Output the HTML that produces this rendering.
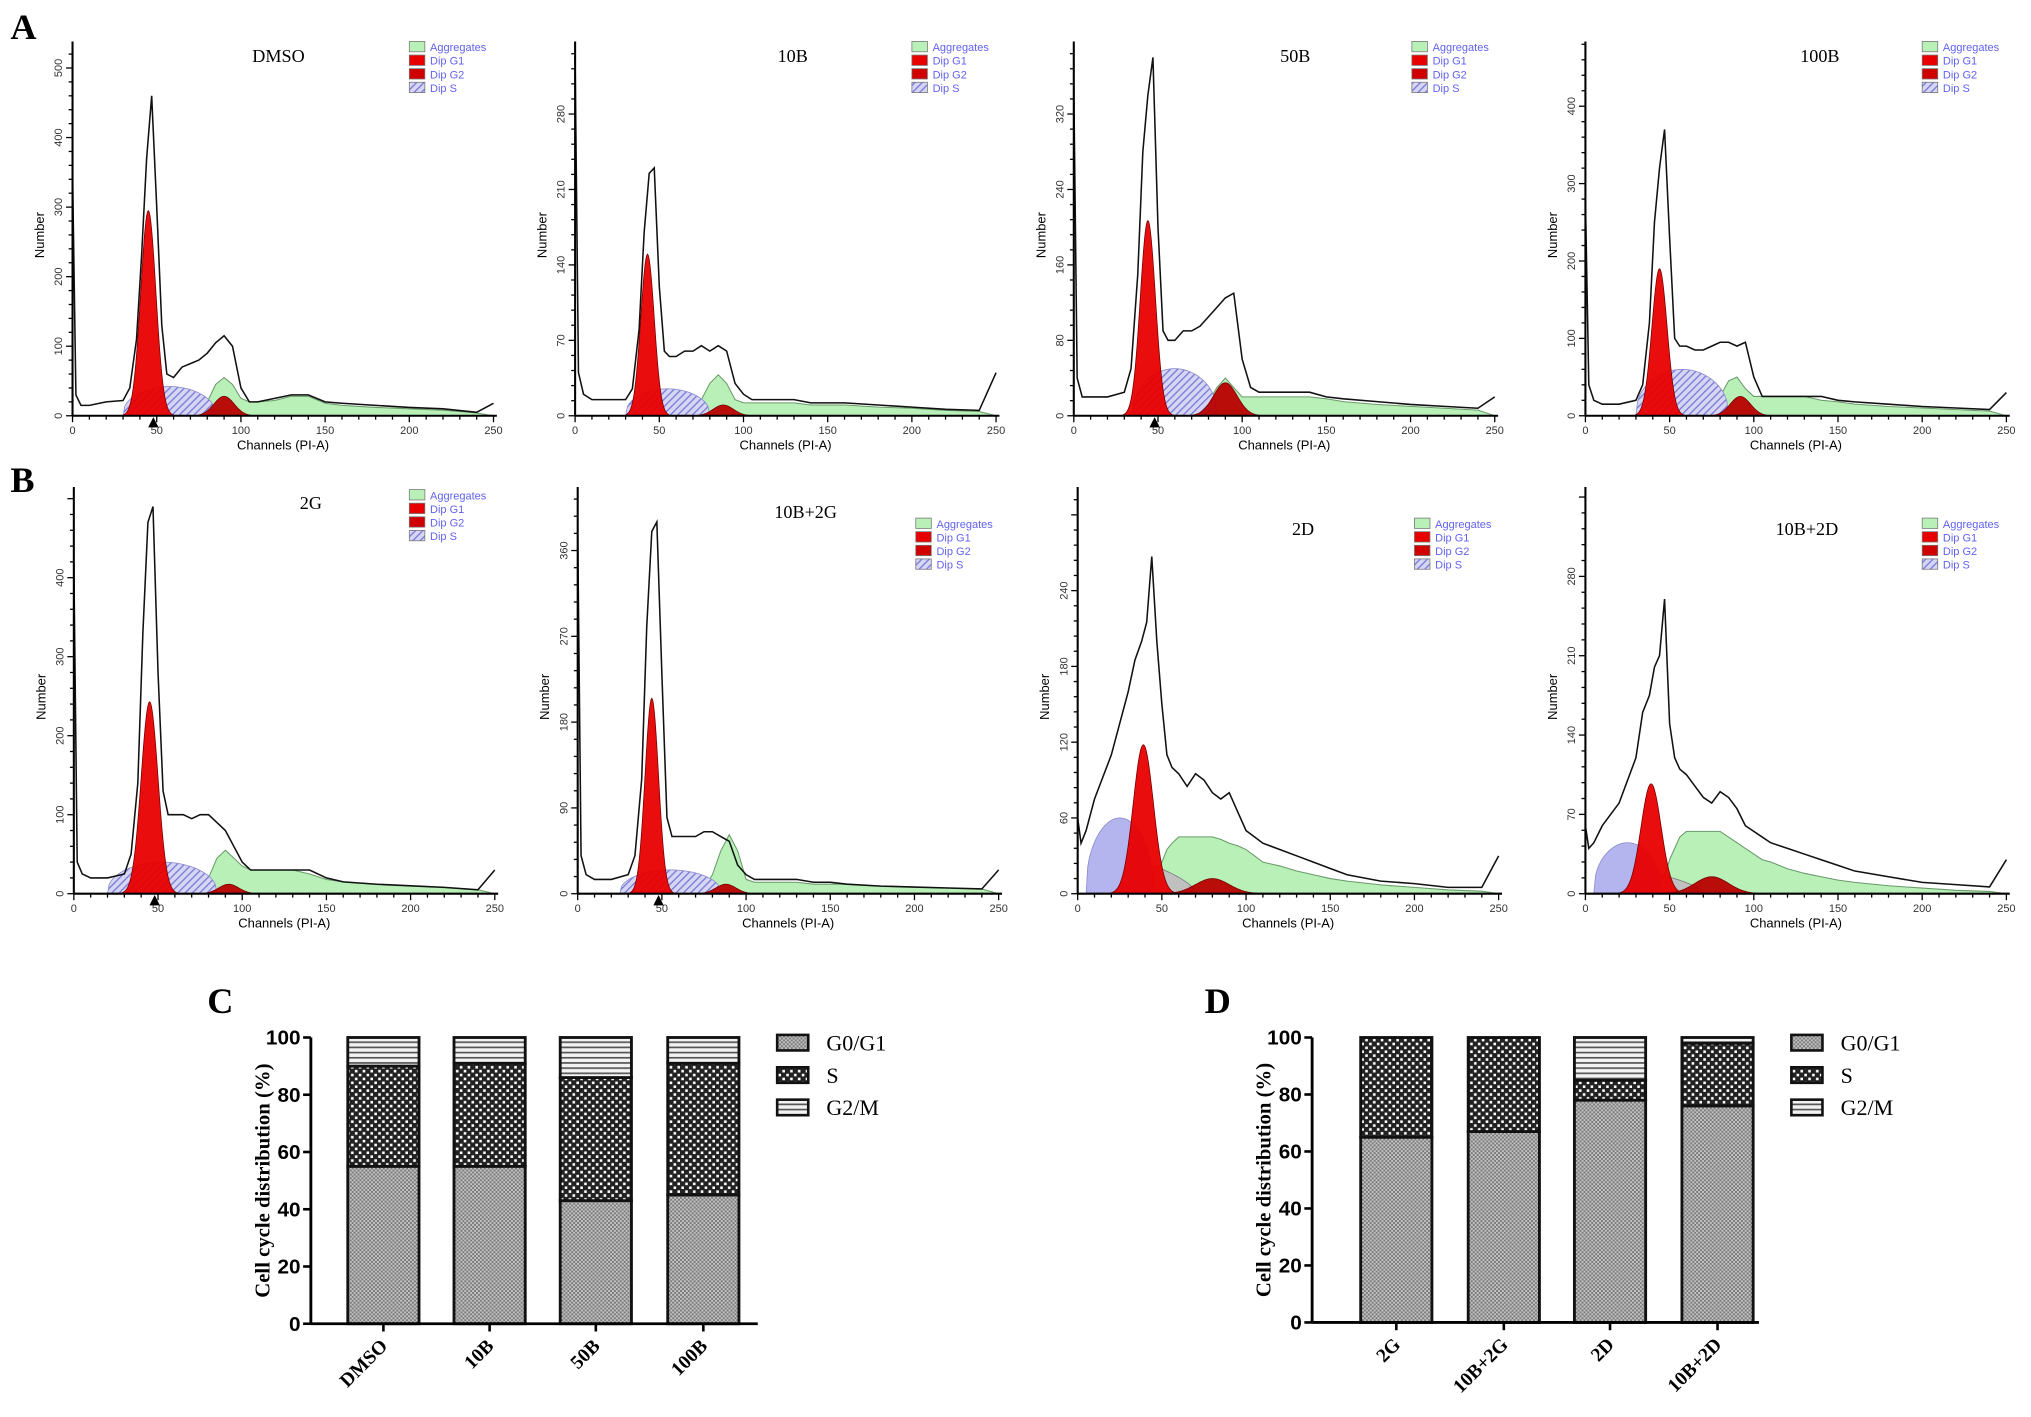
<!DOCTYPE html>
<html><head><meta charset="utf-8"><style>
html,body{margin:0;padding:0;background:#fff;}
svg{display:block;}
</style></head><body>
<svg id="fig" xmlns="http://www.w3.org/2000/svg" width="2031" height="1417" viewBox="0 0 1568 1094" preserveAspectRatio="none">
<defs>
<pattern id="pG1" width="3" height="3" patternUnits="userSpaceOnUse"><rect width="3" height="3" fill="#c4c4c4"/><rect width="1.5" height="1.5" fill="#7a7a7a"/><rect x="1.5" y="1.5" width="1.5" height="1.5" fill="#7a7a7a"/></pattern>
<pattern id="pS" width="6" height="6" patternUnits="userSpaceOnUse"><rect width="6" height="6" fill="#222"/><rect x="1" y="1" width="2" height="2" fill="#fff"/><rect x="4" y="4" width="2" height="2" fill="#fff"/></pattern>
<pattern id="pG2" width="4" height="4" patternUnits="userSpaceOnUse"><rect width="4" height="4" fill="#f2f2f2"/><rect y="0" width="4" height="1.3" fill="#555"/></pattern>
<pattern id="pHatch" width="4" height="4" patternUnits="userSpaceOnUse" patternTransform="rotate(45)"><rect width="4" height="4" fill="#d6d6f4"/><rect width="1" height="4" fill="#7878d8"/></pattern>
</defs>
<g font-family="Liberation Serif, serif" font-weight="bold" font-size="28" fill="#000">
<text x="8" y="30">A</text>
<text x="8" y="380">B</text>
<text x="160" y="782">C</text>
<text x="930" y="782">D</text>
</g>
<g id="hists"></g>
<g id="bars"></g>
</svg>
<script>
const NS='http://www.w3.org/2000/svg';
const chans=[0,2,5,10,20,30,34,38,41,44,47,50,53,56,60,65,70,75,80,85,90,95,100,105,110,120,130,140,150,160,180,200,220,240,250];
const histDMSO=[350,30,15,15,20,22,40,110,230,370,460,300,130,60,55,70,75,80,90,105,115,100,40,20,20,25,30,30,20,18,15,12,10,5,18];
const aggDMSO=[0,0,0,0,0,0,0,0,0,0,0,0,0,0,0,0,0,5,20,45,55,45,25,20,20,22,28,28,18,15,12,10,8,4,0];
const g1DMSO=[45,295,4.5], g2DMSO=[90,28,6], sDMSO=[30,85,42];
const hist10B=[330,40,20,15,15,15,25,80,170,225,230,120,60,55,55,60,60,65,60,65,60,30,20,15,15,15,15,12,12,12,10,8,6,5,40];
const agg10B=[0,0,0,0,0,0,0,0,0,0,0,0,0,0,0,0,5,15,30,38,30,15,12,12,12,12,12,10,10,10,8,7,5,4,0];
const g110B=[43,150,4], g210B=[88,10,6], s10B=[30,80,25];
const hist50B=[350,40,20,20,20,25,50,150,280,340,380,200,90,80,80,90,90,95,105,115,125,130,60,30,25,25,25,25,20,18,15,12,10,8,20];
const agg50B=[0,0,0,0,0,0,0,0,0,0,0,0,0,0,0,0,0,5,15,30,40,30,20,20,20,20,20,20,18,15,12,10,8,6,0];
const g150B=[44,207,4.5], g250B=[90,35,7], s50B=[35,85,50];
const hist100B=[280,40,20,15,15,20,40,120,250,320,370,230,100,90,90,85,85,90,95,95,90,95,50,25,25,25,25,25,20,18,15,12,10,8,30];
const agg100B=[0,0,0,0,0,0,0,0,0,0,0,0,0,0,0,0,0,5,25,45,50,35,25,25,25,25,25,20,18,15,12,10,8,6,0];
const g1100B=[44,190,4.5], g2100B=[92,25,6], s100B=[30,85,60];
const hist2G=[420,40,25,20,20,25,50,140,330,470,490,280,130,100,100,100,95,100,100,90,80,60,40,30,30,30,30,30,20,15,12,10,8,5,30];
const agg2G=[0,0,0,0,0,0,0,0,0,0,0,0,0,0,0,0,0,5,20,45,55,45,35,30,30,30,30,25,18,15,12,10,8,5,0];
const g12G=[45,243,5], g22G=[92,12,6], s2G=[20,85,40];
const hist10B2G=[380,40,20,15,15,20,40,120,280,380,390,230,80,60,60,60,60,65,65,60,55,30,20,15,15,15,15,12,12,10,8,7,6,5,25];
const agg10B2G=[0,0,0,0,0,0,0,0,0,0,0,0,0,0,0,0,0,5,20,45,62,45,15,12,12,12,12,10,10,10,8,7,6,5,0];
const g110B2G=[44,205,4], g210B2G=[88,10,6], s10B2G=[25,85,25];
const hist2D=[60,40,50,75,110,160,185,200,215,267,200,150,110,100,95,85,95,90,80,75,80,65,50,45,40,35,30,25,20,15,10,8,5,5,30];
const agg2D=[0,0,0,0,0,0,0,0,0,5,15,25,35,40,45,45,45,45,45,43,40,38,35,30,25,22,18,15,12,10,7,5,3,2,0];
const g12D=[39,118,6], g22D=[80,12,10], s2D=[5,45,60];
const hist10B2D=[60,40,45,60,80,120,160,175,200,210,260,150,120,110,105,95,85,80,90,85,75,60,55,50,45,40,35,30,25,20,15,10,8,6,30];
const agg10B2D=[0,0,0,0,0,0,0,0,0,5,15,30,40,50,55,55,55,55,55,50,45,40,35,30,28,22,18,15,12,10,7,5,3,2,0];
const g110B2D=[39,97,6], g210B2D=[75,15,10], s10B2D=[5,45,45];
const yTicksPer=[100,70,80,100,100,90,60,70];
const yTickMax=[500,280,320,400,400,360,240,280];

const panels=[
 {id:'dmso',title:'DMSO',ox:56,oy:321,top:32,ppc:0.537,tx:215,ty:48,lx:316,ly:32,h:histDMSO,a:aggDMSO,g1:g1DMSO,g2:g2DMSO,s:sDMSO,mk:true,deb:false},
 {id:'10b',title:'10B',ox:444,oy:321,top:32,ppc:0.832,tx:612,ty:48,lx:704,ly:32,h:hist10B,a:agg10B,g1:g110B,g2:g210B,s:s10B,mk:false,deb:false},
 {id:'50b',title:'50B',ox:829,oy:321,top:32,ppc:0.728,tx:1000,ty:48,lx:1090,ly:32,h:hist50B,a:agg50B,g1:g150B,g2:g250B,s:s50B,mk:true,deb:false},
 {id:'100b',title:'100B',ox:1224,oy:321,top:32,ppc:0.5975,tx:1405,ty:48,lx:1484,ly:32,h:hist100B,a:agg100B,g1:g1100B,g2:g2100B,s:s100B,mk:false,deb:false},
 {id:'2g',title:'2G',ox:57,oy:690,top:376,ppc:0.61,tx:240,ty:393,lx:316,ly:378,h:hist2G,a:agg2G,g1:g12G,g2:g22G,s:s2G,mk:true,deb:false},
 {id:'10b2g',title:'10B+2G',ox:446,oy:690,top:376,ppc:0.736,tx:622,ty:400,lx:707,ly:400,h:hist10B2G,a:agg10B2G,g1:g110B2G,g2:g210B2G,s:s10B2G,mk:true,deb:false},
 {id:'2d',title:'2D',ox:832,oy:690,top:376,ppc:0.975,tx:1006,ty:413,lx:1092,ly:400,h:hist2D,a:agg2D,g1:g12D,g2:g22D,s:s2D,mk:false,deb:true},
 {id:'10b2d',title:'10B+2D',ox:1224,oy:690,top:376,ppc:0.875,tx:1395,ty:413,lx:1484,ly:400,h:hist10B2D,a:agg10B2D,g1:g110B2D,g2:g210B2D,s:s10B2D,mk:false,deb:true}
];
function E(tag,attrs,parent){const e=document.createElementNS(NS,tag);for(const k in attrs)e.setAttribute(k,attrs[k]);parent.appendChild(e);return e;}
const H=document.getElementById('hists');
panels.forEach((p,pi)=>{
 const g=E('g',{},H);
 
 
 const X=c=>p.ox+c*1.3, Y=v=>p.oy-v*p.ppc;
 // aggregates
 let d='M'+X(chans[0])+','+Y(0);chans.forEach((c,i)=>{d+=' L'+X(c)+','+Y(p.a[i]);});d+=' L'+X(250)+','+Y(0)+'Z';
 const ag=E('path',{d:d,fill:'#b8f0b8',stroke:'#6a9a6a','stroke-width':0.8},g);
 
 
 // debris (grey)
 if(p.deb){const a=p.s[0],b=p.s[1]+25,hh=p.s[2]*0.55;let dd='M'+X(a)+','+Y(0);for(let c=a;c<=b;c++){dd+=' L'+X(c)+','+Y(hh*Math.pow(Math.sin(Math.PI*(c-a)/(b-a)),0.5)*(1-0.5*(c-a)/(b-a)));}dd+=' L'+X(b)+','+Y(0)+'Z';
  const db=E('path',{d:dd,fill:'#c0c0c0',stroke:'#777','stroke-width':0.6},g);
  
  }
 // S phase
 {const a=p.s[0],b=p.s[1],hh=p.s[2];let dd='M'+X(a)+','+Y(0);for(let c=a;c<=b;c++){dd+=' L'+X(c)+','+Y(hh*Math.pow(Math.sin(Math.PI*(c-a)/(b-a)),0.4));}dd+=' L'+X(b)+','+Y(0)+'Z';
  const sp=E('path',{d:dd,fill:p.deb?'#b4b4ee':'url(#pHatch)',stroke:'#8888cc','stroke-width':0.6},g);
  
  }
 // gaussians
 [[p.g1,'#e80000','dip-g1-peak'],[p.g2,'#b80000','dip-g2-peak']].forEach(([q,col,nm])=>{
  const m=q[0],hh=q[1],sd=q[2];let dd='M'+X(m-4*sd)+','+Y(0);for(let c=m-4*sd;c<=m+4*sd;c+=0.5){dd+=' L'+X(c)+','+Y(hh*Math.exp(-(c-m)*(c-m)/(2*sd*sd)));}dd+=' L'+X(m+4*sd)+','+Y(0)+'Z';
  const gp=E('path',{d:dd,fill:col,stroke:'#700','stroke-width':0.6,'fill-opacity':0.95},g);
  
  
 });
 // histogram line
 let ld='';chans.forEach((c,i)=>{ld+=(i?' L':'M')+X(c)+','+Y(p.h[i]);});
 const hl=E('path',{d:ld,fill:'none',stroke:'#111','stroke-width':1.2},g);
 
 
 // axes
 const ya=E('line',{x1:p.ox,y1:p.top,x2:p.ox,y2:p.oy,stroke:'#000','stroke-width':1.6},g);
 
 
 const xa=E('line',{x1:p.ox,y1:p.oy,x2:X(252),y2:p.oy,stroke:'#000','stroke-width':1.6},g);
 
 
 for(let c=0;c<=250;c+=10){const t=E('line',{x1:X(c),y1:p.oy,x2:X(c),y2:p.oy+(c%50?3:5),stroke:'#000','stroke-width':1},g);
  
  
  if(c%50===0){const tl=E('text',{x:X(c),y:p.oy+14,'font-size':8.5,'text-anchor':'middle',fill:'#333','font-family':'Liberation Sans, sans-serif'},g);tl.textContent=c;
   
   }}
 const st=yTicksPer[pi],mx=yTickMax[pi];
 for(let v=0;Y(v)>=p.top;v+=st/5){const maj=Math.abs(v/st-Math.round(v/st))<1e-6;
  const t=E('line',{x1:p.ox-(maj?5:3),y1:Y(v),x2:p.ox,y2:Y(v),stroke:'#000','stroke-width':1},g);
  
  
  if(maj&&v<=mx){const tl=E('text',{x:0,y:0,'font-size':8.5,'text-anchor':'middle',fill:'#333','font-family':'Liberation Sans, sans-serif',transform:'translate('+(p.ox-8)+','+Y(v)+') rotate(-90)'},g);tl.textContent=Math.round(v);
   
   }}
 const yt=E('text',{'font-size':10,'text-anchor':'middle','font-family':'Liberation Sans, sans-serif',transform:'translate('+(p.ox-22)+','+((p.top+p.oy)/2+5)+') rotate(-90)'},g);yt.textContent='Number';
 
 
 const xt=E('text',{x:X(125),y:p.oy+26,'font-size':10,'text-anchor':'middle','font-family':'Liberation Sans, sans-serif'},g);xt.textContent='Channels (PI-A)';
 
 
 if(p.mk){const tr=E('path',{d:'M'+(X(48)-4)+','+(p.oy+9)+' L'+(X(48)+4)+','+(p.oy+9)+' L'+X(48)+','+(p.oy+1)+'Z',fill:'#000'},g);
  
  }
 const tt=E('text',{x:p.tx,y:p.ty,'font-size':14,'text-anchor':'middle','font-family':'Liberation Serif, serif'},g);tt.textContent=p.title;
 
 
 [['Aggregates','#b8f0b8'],['Dip G1','#e80000'],['Dip G2','#d00000'],['Dip S','url(#pHatch)']].forEach((L,i)=>{
  const r=E('rect',{x:p.lx,y:p.ly+i*10.5,width:12,height:8,fill:L[1],stroke:'#777','stroke-width':0.6},g);
  
  
  const lt=E('text',{x:p.lx+16,y:p.ly+i*10.5+7.5,'font-size':8.5,fill:'#6262f0','font-family':'Liberation Sans, sans-serif'},g);lt.textContent=L[0];
  
  
 });
});

// stacked bar charts
const catsC=['DMSO','10B','50B','100B'];
const g0C=[55,55,43,45];
const sC=[35,36,43,46];
const g2C=[10,9,14,9];
const catsD=['2G','10B+2G','2D','10B+2D'];
const g0D=[65,67,78,76];
const sD=[35,33,7,22];
const g2D=[0,0,15,2];
const yTicksBar=[0,20,40,60,80,100];
const legendBar=['G0/G1','S','G2/M'];
const B=document.getElementById('bars');
[{id:'c',ox:240,oy:1022,top:801,cx:[296,378,460,543],xend:585,lx:600,cats:catsC,g0:g0C,s:sC,g2:g2C},
 {id:'d',ox:1013,oy:1021,top:801,cx:[1078,1161,1243,1326],xend:1358,lx:1383,cats:catsD,g0:g0D,s:sD,g2:g2D}].forEach(c=>{
 const g=E('g',{},B);
 
 
 const Y=v=>c.oy-(c.oy-c.top)*v/100;
 c.cats.forEach((cat,i)=>{
  let base=0;
  [[c.g0[i],'url(#pG1)','bar-g0g1'],[c.s[i],'url(#pS)','bar-s'],[c.g2[i],'url(#pG2)','bar-g2m']].forEach(([v,f,nm])=>{
   if(v<=0){return;}
   const r=E('rect',{x:c.cx[i]-27.5,y:Y(base+v),width:55,height:Y(base)-Y(base+v),fill:f,stroke:'#111','stroke-width':2.2},g);
   
   
   base+=v;
  });
  const t=E('line',{x1:c.cx[i],y1:c.oy,x2:c.cx[i],y2:c.oy+6,stroke:'#000','stroke-width':2},g);
  
  
  const tl=E('text',{'font-size':15,'font-weight':'bold','text-anchor':'end','font-family':'Liberation Serif, serif',transform:'translate('+(c.cx[i]+4)+','+(c.oy+18)+') rotate(-45)'},g);tl.textContent=cat;
  
  
 });
 const ya=E('line',{x1:c.ox,y1:c.top,x2:c.ox,y2:c.oy,stroke:'#000','stroke-width':2.2},g);
 
 
 const xa=E('line',{x1:c.ox,y1:c.oy,x2:c.xend,y2:c.oy,stroke:'#000','stroke-width':2.2},g);
 
 
 yTicksBar.forEach(v=>{
  const t=E('line',{x1:c.ox-6,y1:Y(v),x2:c.ox,y2:Y(v),stroke:'#000','stroke-width':2},g);
  
  
  const tl=E('text',{x:c.ox-8,y:Y(v)+5.5,'font-size':16,'font-weight':'bold','text-anchor':'end','font-family':'Liberation Sans, sans-serif'},g);tl.textContent=v;
  
  
 });
 const yt=E('text',{'font-size':16,'font-weight':'bold','text-anchor':'middle','font-family':'Liberation Serif, serif',transform:'translate('+(c.ox-32)+','+((c.top+c.oy)/2)+') rotate(-90)'},g);yt.textContent='Cell cycle distribution (%)';
 
 
 ['url(#pG1)','url(#pS)','url(#pG2)'].forEach((f,i)=>{
  const r=E('rect',{x:c.lx,y:799+i*25,width:24,height:12,fill:f,stroke:'#111','stroke-width':2},g);
  
  
  const lt=E('text',{x:c.lx+38,y:811+i*25,'font-size':17,'font-family':'Liberation Serif, serif'},g);lt.textContent=legendBar[i];
  
  
 });
});
</script>
</body></html>
